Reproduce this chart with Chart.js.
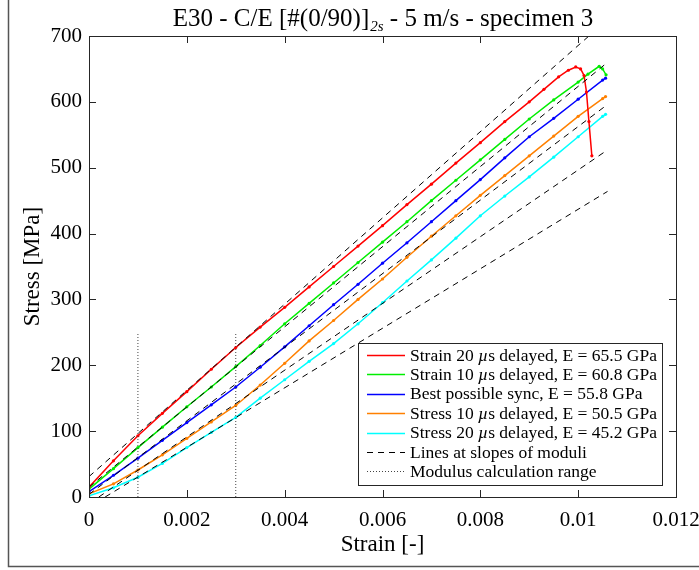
<!DOCTYPE html>
<html>
<head>
<meta charset="utf-8">
<script src="https://cdn.jsdelivr.net/npm/chart.js@4.4.1/dist/chart.umd.min.js"></script>
<style>
html, body { margin: 0; padding: 0; background: #fff; }
canvas { display: block; }
</style>
</head>
<body>
<canvas id="stressChart" width="699" height="570"></canvas>
<script>
const FONT = '"Liberation Serif", "Times New Roman", serif';
const AXIS_COLOR = '#262626';

// measured curves (strain [-], stress [MPa])
const redStrain = [0, 0.0005, 0.001, 0.0015, 0.002, 0.0025, 0.003, 0.0035, 0.004, 0.0045, 0.005, 0.0055, 0.006, 0.0065, 0.007, 0.0075, 0.008, 0.0085, 0.009, 0.0093, 0.0096, 0.0098, 0.00995, 0.01005, 0.01012, 0.01017, 0.01022, 0.01028];
const redStress = [15, 55, 93, 127, 160, 194, 227, 258, 288, 319, 350, 381, 412, 444, 475, 507, 538, 570, 600, 619, 638, 648, 653, 650, 640, 615, 570, 518];

const greenStrain = [0, 0.0005, 0.001, 0.0015, 0.002, 0.0025, 0.003, 0.0035, 0.004, 0.0045, 0.005, 0.0055, 0.006, 0.0065, 0.007, 0.0075, 0.008, 0.0085, 0.009, 0.0095, 0.01, 0.0102, 0.01043, 0.0105, 0.01057];
const greenStress = [12, 43, 75, 106, 137, 167, 198, 230, 263, 294, 325, 356, 387, 418, 450, 481, 512, 543, 574, 603, 630, 642, 654, 650, 641];

const blueStrain = [0, 0.0005, 0.001, 0.0015, 0.002, 0.0025, 0.003, 0.0035, 0.004, 0.0045, 0.005, 0.0055, 0.006, 0.0065, 0.007, 0.0075, 0.008, 0.0085, 0.009, 0.0095, 0.01, 0.0105, 0.01056];
const blueStress = [8, 33, 59, 86, 113, 140, 167, 197, 228, 260, 292, 323, 355, 386, 418, 450, 482, 515, 547, 575, 604, 633, 636];

const orangeStrain = [0, 0.0005, 0.001, 0.0015, 0.002, 0.0025, 0.003, 0.0035, 0.004, 0.0045, 0.005, 0.0055, 0.006, 0.0065, 0.007, 0.0075, 0.008, 0.0085, 0.009, 0.0095, 0.01, 0.0105, 0.01056];
const orangeStress = [5, 20, 41, 64, 89, 114, 139, 170, 203, 237, 268, 300, 331, 364, 396, 427, 458, 488, 518, 548, 578, 605, 608];

const cyanStrain = [0, 0.0005, 0.001, 0.0015, 0.002, 0.0025, 0.003, 0.0035, 0.004, 0.0045, 0.005, 0.0055, 0.006, 0.0065, 0.007, 0.0075, 0.008, 0.0085, 0.009, 0.0095, 0.01, 0.0105, 0.01056];
const cyanStress = [2, 14, 30, 51, 75, 98, 121, 150, 178, 206, 233, 263, 295, 328, 360, 393, 427, 457, 486, 516, 547, 578, 581];

// lines at slopes of moduli, two end points each
const modulusLineStrain = [[0, 0.01022], [0, 0.0106], [0, 0.0106], [0.0002, 0.0106], [0.00033, 0.0106]];
const modulusLineStress = [[31, 700], [15, 660], [4, 596], [0, 527], [0, 464]];

// modulus calculation range
const rangeStrain = [0.001, 0.003];
const rangeStress = [0, 250];

const seriesLabels = [
  'Strain 20 µs delayed, E = 65.5 GPa',
  'Strain 10 µs delayed, E = 60.8 GPa',
  'Best possible sync, E = 55.8 GPa',
  'Stress 10 µs delayed, E = 50.5 GPa',
  'Stress 20 µs delayed, E = 45.2 GPa'
];
const seriesColors = ['#ff0000', '#00ee00', '#0000ff', '#ff8000', '#00ffff'];
const dashLabel = 'Lines at slopes of moduli';
const rangeLabel = 'Modulus calculation range';

const xTicks = [0, 0.002, 0.004, 0.006, 0.008, 0.01, 0.012];
const yTicks = [0, 100, 200, 300, 400, 500, 600, 700];

const toPoints = (xs, ys) => xs.map((x, i) => ({ x: x, y: ys[i] }));

const curves = [
  [redStrain, redStress],
  [greenStrain, greenStress],
  [blueStrain, blueStress],
  [orangeStrain, orangeStress],
  [cyanStrain, cyanStress]
];

const datasets = [];

curves.forEach(([xs, ys], i) => {
  datasets.push({
    label: seriesLabels[i],
    data: toPoints(xs, ys),
    borderColor: seriesColors[i],
    backgroundColor: seriesColors[i],
    borderWidth: 1.5,
    pointRadius: 1.6,
    pointBorderWidth: 0,
    pointBackgroundColor: seriesColors[i],
    tension: 0,
    order: 2,
    legendDash: []
  });
});

modulusLineStrain.forEach((xs, i) => {
  datasets.push({
    label: i === 0 ? dashLabel : '',
    data: toPoints(xs, modulusLineStress[i]),
    borderColor: '#000',
    borderWidth: 1,
    borderDash: [6, 5],
    pointRadius: 0,
    order: 1,
    legendDash: [6, 5]
  });
});

rangeStrain.forEach((x, i) => {
  datasets.push({
    label: i === 0 ? rangeLabel : '',
    data: toPoints([x, x], rangeStress),
    borderColor: '#444',
    borderWidth: 1,
    borderDash: [1, 2],
    pointRadius: 0,
    order: 1,
    legendDash: [1, 2]
  });
});

function drawMu(ctx, text, x, y, size) {
  const parts = text.split('µ');
  parts.forEach((p, i) => {
    if (i > 0) {
      ctx.font = `italic ${size}px ${FONT}`;
      ctx.fillText('µ', x, y);
      x += ctx.measureText('µ').width;
    }
    ctx.font = `${size}px ${FONT}`;
    ctx.fillText(p, x, y);
    x += ctx.measureText(p).width;
  });
}

const decorations = {
  id: 'decorations',
  afterDraw(chart) {
    const { ctx, chartArea: a, scales } = chart;
    ctx.save();

    // figure frame
    ctx.strokeStyle = '#555';
    ctx.lineWidth = 1.5;
    ctx.beginPath();
    ctx.moveTo(8.5, 0);
    ctx.lineTo(8.5, 566.5);
    ctx.lineTo(699, 566.5);
    ctx.stroke();

    // axes box + inward ticks
    ctx.strokeStyle = AXIS_COLOR;
    ctx.lineWidth = 1;
    ctx.strokeRect(Math.round(a.left) + 0.5, Math.round(a.top) + 0.5,
      Math.round(a.right - a.left), Math.round(a.bottom - a.top));
    ctx.beginPath();
    scales.x.ticks.forEach(t => {
      const px = Math.round(scales.x.getPixelForValue(t.value)) + 0.5;
      ctx.moveTo(px, a.bottom); ctx.lineTo(px, a.bottom - 7);
      ctx.moveTo(px, a.top); ctx.lineTo(px, a.top + 7);
    });
    scales.y.ticks.forEach(t => {
      const py = Math.round(scales.y.getPixelForValue(t.value)) + 0.5;
      ctx.moveTo(a.left, py); ctx.lineTo(a.left + 7, py);
      ctx.moveTo(a.right, py); ctx.lineTo(a.right - 7, py);
    });
    ctx.stroke();

    // title with subscript
    ctx.fillStyle = '#000';
    ctx.textBaseline = 'alphabetic';
    ctx.textAlign = 'left';
    const tSize = 25;
    const subSize = 15;
    const t1 = 'E30 - C/E [#(0/90)]';
    const tSub = '2s';
    const t2 = ' - 5 m/s - specimen 3';
    ctx.font = `${tSize}px ${FONT}`;
    const w1 = ctx.measureText(t1).width;
    const w2 = ctx.measureText(t2).width;
    ctx.font = `italic ${subSize}px ${FONT}`;
    const wSub = ctx.measureText(tSub).width;
    let tx = (a.left + a.right) / 2 - (w1 + wSub + w2) / 2;
    const ty = 26;
    ctx.font = `${tSize}px ${FONT}`;
    ctx.fillText(t1, tx, ty);
    tx += w1;
    ctx.font = `italic ${subSize}px ${FONT}`;
    ctx.fillText(tSub, tx + 1, ty + 5);
    tx += wSub + 1;
    ctx.font = `${tSize}px ${FONT}`;
    ctx.fillText(t2, tx, ty);

    // axis titles
    ctx.textAlign = 'center';
    ctx.textBaseline = 'middle';
    ctx.font = `23px ${FONT}`;
    ctx.fillText('Strain [-]', (a.left + a.right) / 2, 545);
    ctx.save();
    ctx.translate(33, (a.top + a.bottom) / 2);
    ctx.rotate(-Math.PI / 2);
    ctx.fillText('Stress [MPa]', 0, 0);
    ctx.restore();

    // legend box
    const bx = a.right - 318, by = a.bottom - 154, bw = 304, bh = 142;
    ctx.fillStyle = '#fff';
    ctx.fillRect(bx, by, bw, bh);
    ctx.strokeStyle = AXIS_COLOR;
    ctx.strokeRect(bx + 0.5, by + 0.5, bw, bh);
    const items = chart.data.datasets.filter(d => d.label);
    ctx.textAlign = 'left';
    ctx.textBaseline = 'middle';
    items.forEach((d, i) => {
      const ry = by + 12 + i * 19.4;
      ctx.strokeStyle = d.borderColor;
      ctx.lineWidth = d.borderWidth;
      ctx.setLineDash(d.legendDash);
      ctx.beginPath();
      ctx.moveTo(bx + 9, Math.round(ry) + 0.5);
      ctx.lineTo(bx + 47, Math.round(ry) + 0.5);
      ctx.stroke();
      ctx.setLineDash([]);
      ctx.fillStyle = '#000';
      drawMu(ctx, d.label, bx + 52, ry + 1, 17.5);
    });

    ctx.restore();
  }
};

new Chart(document.getElementById('stressChart'), {
  type: 'line',
  data: { datasets: datasets },
  options: {
    responsive: false,
    animation: false,
    layout: { padding: { top: 36, right: 23, left: 0, bottom: 0 } },
    plugins: {
      legend: { display: false },
      tooltip: { enabled: false }
    },
    scales: {
      x: {
        type: 'linear',
        min: 0,
        max: 0.012,
        afterBuildTicks: s => { s.ticks = xTicks.map(v => ({ value: v })); },
        afterFit: s => { s.height = 73; s.paddingLeft = 0; s.paddingRight = 0; },
        ticks: {
          color: '#000',
          padding: 11,
          maxRotation: 0,
          font: { family: FONT, size: 21 },
          callback: v => String(+v.toFixed(3))
        },
        grid: { display: false, drawTicks: false },
        border: { display: false }
      },
      y: {
        type: 'linear',
        min: 0,
        max: 700,
        afterBuildTicks: s => { s.ticks = yTicks.map(v => ({ value: v })); },
        afterFit: s => { s.width = 89; s.paddingTop = 0; s.paddingBottom = 0; },
        ticks: {
          color: '#000',
          padding: 7,
          font: { family: FONT, size: 21 }
        },
        grid: { display: false, drawTicks: false },
        border: { display: false }
      }
    }
  },
  plugins: [decorations]
});
</script>
</body>
</html>
